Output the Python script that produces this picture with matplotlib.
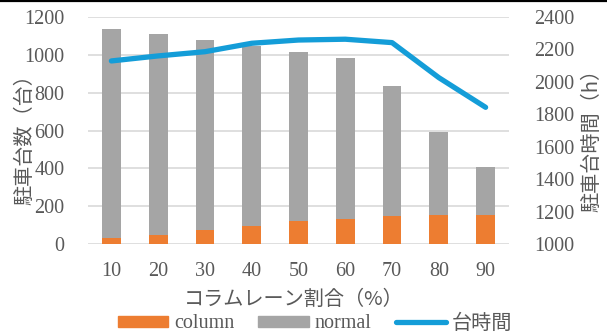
import matplotlib
matplotlib.use("Agg")
import matplotlib.pyplot as plt
from matplotlib.lines import Line2D
from matplotlib.patches import Patch

# Data
ratios = ["10", "20", "30", "40", "50", "60", "70", "80", "90"]
column = [30, 48, 72, 95, 120, 132, 150, 155, 155]
normal = [1107, 1064, 1005, 952, 894, 850, 686, 438, 252]
hours = [2129, 2160, 2186, 2238, 2258, 2263, 2242, 2026, 1843]

SERIF = ["Liberation Serif", "DejaVu Serif"]
CJK = ["Noto Sans CJK JP", "DejaVu Sans"]
TXT = "#595959"
FS = 14.5

C_COL = "#ED7D31"
C_NOR = "#A5A5A5"
C_LINE = "#149DD8"

fig = plt.figure(figsize=(6.07, 3.35), dpi=100)
ax = fig.add_axes([88 / 607, 1 - 244 / 335, (509 - 88) / 607, (244 - 17) / 335])
ax2 = ax.twinx()

x = list(range(len(ratios)))
ax.bar(x, column, width=0.4, color=C_COL, zorder=3)
ax.bar(x, normal, width=0.4, bottom=column, color=C_NOR, zorder=3)
ax2.plot(x, hours, color=C_LINE, lw=3.8, solid_capstyle="round", solid_joinstyle="round")

ax.set_xlim(-0.5, len(ratios) - 0.5)
ax.set_ylim(0, 1200)
ax.set_yticks(range(0, 1201, 200))
ax2.set_ylim(1000, 2400)
ax2.set_yticks(range(1000, 2401, 200))
ax.set_xticks(x)
ax.set_xticklabels(ratios)

ax.grid(axis="y", color="#D9D9D9", lw=1.2, zorder=0)
ax.set_axisbelow(True)
for a in (ax, ax2):
    for s in a.spines.values():
        s.set_visible(False)
    a.tick_params(length=0, colors=TXT, labelsize=FS)
    for lab in a.get_xticklabels() + a.get_yticklabels():
        lab.set_fontfamily(SERIF)
ax.tick_params(axis="y", pad=17)
ax.tick_params(axis="x", pad=13)
ax2.tick_params(axis="y", pad=18)

fig.text(25 / 607, 1 - 135 / 335, "駐車台数（台）", rotation=90, ha="center", va="center",
         fontsize=FS, color=TXT, family=CJK)
fig.text(592 / 607, 1 - 135 / 335, "駐車台時間（h）", rotation=90, ha="center", va="center",
         fontsize=FS, color=TXT, family=CJK)
fig.text(294 / 607, 1 - 299 / 335, "コラムレーン割合（%）", ha="center", va="center",
         fontsize=FS, color=TXT, family=CJK)

handles = [Patch(color=C_COL), Patch(color=C_NOR),
           Line2D([0], [0], color=C_LINE, lw=3.8, solid_capstyle="round")]
leg = fig.legend(handles, ["column", "normal", "台時間"], loc="center",
                 bbox_to_anchor=(315 / 607, 1 - 323 / 335), ncol=3, frameon=False,
                 fontsize=FS, handlelength=2.5, handleheight=0.5, handletextpad=0.3,
                 columnspacing=1.2, borderpad=0)
for t, fam in zip(leg.get_texts(), [SERIF, SERIF, CJK]):
    t.set_fontfamily(fam)
    t.set_color(TXT)

fig.add_artist(Line2D([0, 1], [1 - 0.8 / 335, 1 - 0.8 / 335], color="black", lw=1.6,
                      transform=fig.transFigure))

fig.savefig("out.png", dpi=100)
